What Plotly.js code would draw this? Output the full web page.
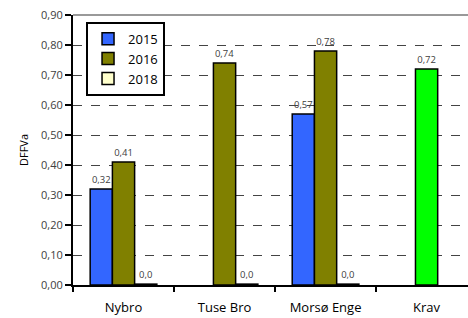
<!DOCTYPE html>
<html>
<head>
<meta charset="utf-8">
<script src="https://cdn.plot.ly/plotly-3.0.1.min.js"></script>
<style>html,body{margin:0;padding:0;background:#fff;}#chart{width:468px;height:318px;}</style>
</head>
<body>
<div id="chart"></div>
<script>
const categories = ["Nybro", "Tuse Bro", "Morsø Enge", "Krav"];
const values2015 = [0.32, null, 0.57, null];
const values2016 = [0.41, 0.74, 0.78, null];
const values2018 = [0.003, 0.003, 0.003, null];
const valuesKrav = [null, null, null, 0.72];
const yTicks = [0, 0.1, 0.2, 0.3, 0.4, 0.5, 0.6, 0.7, 0.8, 0.9];

const labelFont = {family: "Open Sans, Lato, sans-serif", size: 9.5, color: "#404040"};
const line = {color: "#000", width: 1.5};

function barTrace(name, y, color, offset, fmt, show) {
  return {
    type: "bar", name: name, x: categories, y: y,
    width: 0.22, offset: offset,
    marker: {color: color, line: line},
    texttemplate: fmt, textposition: "outside", cliponaxis: false,
    textfont: labelFont, showlegend: show, hoverinfo: "skip"
  };
}

const data = [
  barTrace("2015", values2015, "#3366FF", -0.33, "%{y:.2f}", true),
  barTrace("2016", values2016, "#808000", -0.11, "%{y:.2f}", true),
  barTrace("2018", values2018, "#FFFFCC", 0.11, "%{y:.1f}", true),
  barTrace("Krav", valuesKrav, "#00FF00", -0.11, "%{y:.2f}", false)
];

const layout = {
  width: 468, height: 318,
  margin: {l: 73, r: 0, t: 15, b: 33},
  paper_bgcolor: "#fff", plot_bgcolor: "#fff",
  separators: ", ",
  barmode: "overlay",
  font: {family: "Open Sans, Lato, sans-serif", color: "#000"},
  xaxis: {
    range: [-0.5, 3.41], type: "category",
    tickson: "boundaries", ticks: "outside", ticklen: 5, tickwidth: 2, tickcolor: "#000",
    showline: true, linecolor: "#000", linewidth: 2,
    tickfont: {size: 13, color: "#000"}, ticklabelstandoff: 9,
    showgrid: false, zeroline: false
  },
  yaxis: {
    range: [0, 0.9], tickvals: yTicks, tickformat: ".2f",
    ticks: "outside", ticklen: 6, tickwidth: 1.5, tickcolor: "#000",
    showline: true, linecolor: "#000", linewidth: 2,
    tickfont: {size: 11, color: "#404040"},
    showgrid: true, gridcolor: "#444", griddash: "dash", gridwidth: 1,
    zeroline: false,
    title: {text: "DFFVa", font: {size: 11, color: "#000"}, standoff: 10}
  },
  shapes: [{type: "line", xref: "paper", yref: "paper", x0: 0, x1: 1, y0: 1, y1: 1,
            line: {color: "#999", width: 2}}],
  legend: {
    x: 0.033, y: 0.975, xanchor: "left", yanchor: "top",
    bgcolor: "#fff", bordercolor: "#000", borderwidth: 2,
    font: {size: 13, color: "#000"}, tracegroupgap: 0, itemwidth: 30
  },
  showlegend: true
};

Plotly.newPlot("chart", data, layout, {displayModeBar: false, staticPlot: true});
</script>
</body>
</html>
